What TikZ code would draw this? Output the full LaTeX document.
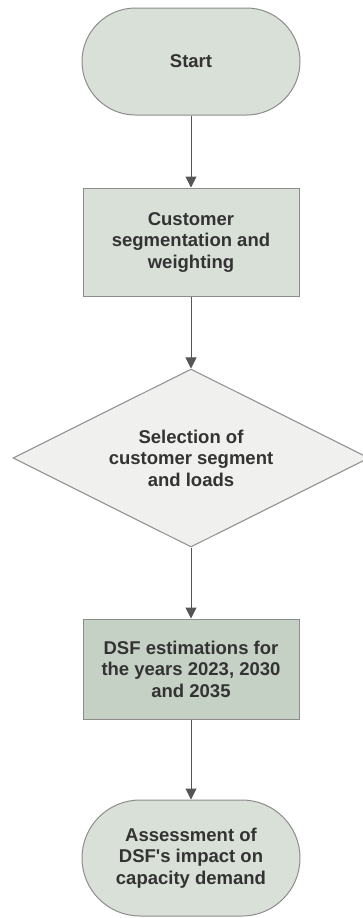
\documentclass[tikz,border=0pt]{standalone}
\usepackage{fontspec}
\setmainfont{Liberation Sans}
\usetikzlibrary{shapes.geometric,shapes.misc,arrows.meta}

\definecolor{termfill}{HTML}{D9E0D7}
\definecolor{boxfill}{HTML}{D8E0D8}
\definecolor{dsffill}{HTML}{C6D1C6}
\definecolor{decfill}{HTML}{F0F0EE}
\definecolor{edge}{HTML}{8C8C8C}
\definecolor{ink}{HTML}{333333}
\definecolor{wire}{HTML}{555555}

\begin{document}
\begin{tikzpicture}[x=1pt,y=-1pt,
    every node/.style={font=\bfseries\fontsize{18.5}{21.5}\selectfont, text=ink, align=center, draw=edge, line width=1pt, inner sep=0pt},
    term/.style={rounded rectangle, fill=termfill, minimum width=218pt},
    proc/.style={rectangle, minimum width=216pt},
    dec/.style={diamond, aspect=2, fill=decfill, minimum width=356pt, minimum height=178pt},
    flow/.style={draw=wire, line width=1pt, -{Triangle[length=11pt,width=11pt]}}]
    \useasboundingbox (0,0) rectangle (362,918);

    \node[term, minimum height=107pt] (start) at (191,61.5) {Start};
    \node[proc, fill=boxfill, minimum height=108pt] (segment) at (191,242) {Customer\\segmentation and\\weighting};
    \node[dec] (select) at (191,458) {Selection of\\customer segment\\and loads};
    \node[proc, fill=dsffill, minimum height=100pt] (dsf) at (191,669) {DSF estimations for\\the years 2023, 2030\\and 2035};
    \node[term, minimum height=116pt] (assess) at (191,858) {Assessment of\\DSF\textquotesingle s impact on\\capacity demand};

    \draw[flow] (start) -- (segment);
    \draw[flow] (segment) -- (select);
    \draw[flow] (select) -- (dsf);
    \draw[flow] (dsf) -- (assess);
\end{tikzpicture}
\end{document}
